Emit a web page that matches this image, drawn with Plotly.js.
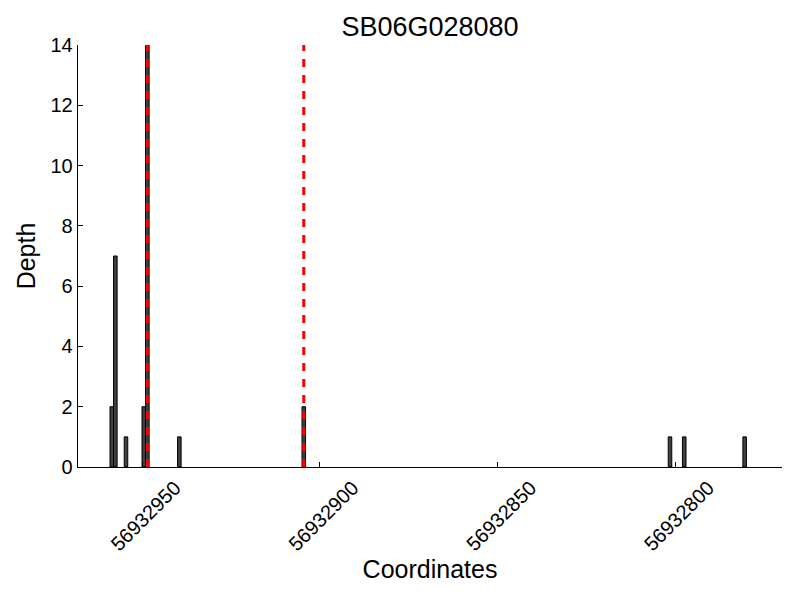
<!DOCTYPE html>
<html>
<head>
<meta charset="utf-8">
<script src="https://cdn.plot.ly/plotly-3.0.1.min.js"></script>
<style>html,body{margin:0;padding:0;background:#fff;}#chart{width:800px;height:600px;}</style>
</head>
<body>
<div id="chart"></div>
<script>
// Data
const positions = [56932958, 56932957, 56932954, 56932949, 56932948, 56932939, 56932904, 56932801, 56932797, 56932780];
const depths    = [2, 7, 1, 2, 14, 1, 2, 1, 1, 1];
const markers   = [56932948.5, 56932904.5];
const tickValues = [56932950, 56932900, 56932850, 56932800];
const tickLabels = ["56932950", "56932900", "56932850", "56932800"];
const chartTitle = "SB06G028080";

const FONT = "Liberation Sans, Arial, sans-serif";

const traces = [{
  type: "bar",
  x: positions,
  y: depths,
  width: 1,
  offset: 0,
  marker: {color: "#404040", line: {color: "#000000", width: 1}},
  hoverinfo: "x+y",
  showlegend: false
}];

markers.forEach(m => {
  traces.push({
    type: "scatter",
    mode: "lines",
    x: [m, m],
    y: [0, 14],
    line: {color: "#ff0000", width: 3, dash: "8px,8px"},
    showlegend: false,
    hoverinfo: "skip"
  });
});

const layout = {
  width: 800,
  height: 600,
  paper_bgcolor: "#ffffff",
  plot_bgcolor: "#ffffff",
  margin: {l: 78, r: 18, t: 45, b: 133},
  font: {family: FONT, color: "#000000", size: 20},
  title: {text: chartTitle, font: {family: FONT, size: 27, color: "#000"}, x: 0.5, xref: "paper", xanchor: "center", y: 0.955, yanchor: "middle"},
  showlegend: false,
  xaxis: {
    range: [56932968, 56932770],
    tickvals: tickValues,
    ticktext: tickLabels,
    tickangle: -45,
    ticklabelshift: -33,
    ticks: "inside",
    ticklen: 5,
    tickcolor: "#000",
    tickwidth: 1,
    showline: true,
    linecolor: "#000",
    linewidth: 1.3,
    showgrid: false,
    zeroline: false,
    tickfont: {family: FONT, size: 20, color: "#000"},
    title: {text: "Coordinates", font: {family: FONT, size: 25, color: "#000"}, standoff: 3}
  },
  yaxis: {
    range: [0, 14],
    dtick: 2,
    tick0: 0,
    ticks: "inside",
    ticklen: 5,
    tickcolor: "#000",
    tickwidth: 1,
    showline: true,
    linecolor: "#000",
    linewidth: 1.3,
    showgrid: false,
    zeroline: false,
    tickfont: {family: FONT, size: 20, color: "#000"},
    title: {text: "Depth", font: {family: FONT, size: 25, color: "#000"}, standoff: 7}
  }
};

Plotly.newPlot("chart", traces, layout, {displayModeBar: false, staticPlot: true});
</script>
</body>
</html>
